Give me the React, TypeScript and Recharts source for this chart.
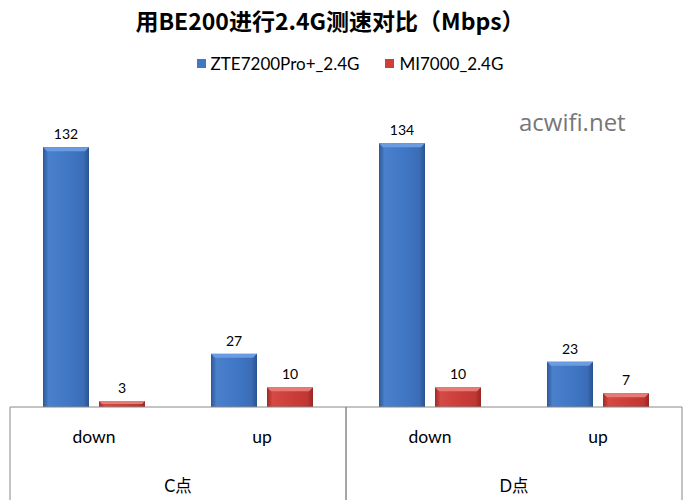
import React from "react";
import { BarChart, Bar, XAxis, YAxis, Legend, LabelList } from "recharts";

const subCategories = ["down", "up", "down", "up"];
const groupCategories = ["C点", "C点", "D点", "D点"];
const zteValues = [132, 27, 134, 23];
const miValues = [3, 10, 10, 7];
const seriesNames = ["ZTE7200Pro+_2.4G", "MI7000_2.4G"];
const seriesColors = ["#4178c6", "#cc3f3a"];
const titleText = "用BE200进行2.4G测速对比（Mbps）";
const watermark = "acwifi.net";

const data = subCategories.map((s, i) => ({
  sub: s,
  group: groupCategories[i],
  zte: zteValues[i],
  mi: miValues[i],
}));

const FONT = "Lato, 'Noto Sans CJK SC', sans-serif";

const makeShape = (grad: string, topColor: string) => (props: any) => {
  const { x, y, width, height } = props;
  if (!height || height <= 0) return <g />;
  const b = Math.min(4, height / 2);
  return (
    <g>
      <rect x={x} y={y} width={width} height={height} fill={`url(#${grad})`} />
      <path
        d={`M${x},${y} L${x + width},${y} L${x + width - b},${y + b} L${x + b},${y + b} Z`}
        fill={topColor}
      />
    </g>
  );
};

const SubTick = (props: any) => {
  const { x, y, payload } = props;
  return (
    <text x={x} y={y + 36} textAnchor="middle" fontSize={17.5} fill="#000" fontFamily={FONT}>
      {payload.value}
    </text>
  );
};

const GroupTick = (props: any) => {
  const { x, y, payload } = props;
  const half = payload.offset ?? 168;
  return (
    <g>
      <line x1={x - half} y1={y - 50} x2={x - half} y2={y + 50} stroke="#888" />
      <line x1={x + half} y1={y - 50} x2={x + half} y2={y + 50} stroke="#888" />
      <text x={x} y={y + 35} textAnchor="middle" fontSize={16.5} fill="#000" fontFamily={FONT}>
        {payload.value}
      </text>
    </g>
  );
};

const LegendContent = () => (
  <div style={{ display: "flex", justifyContent: "center", alignItems: "center", fontSize: 17, fontFamily: FONT, color: "#000", paddingLeft: 14 }}>
    {seriesNames.map((n, i) => (
      <div key={n} style={{ display: "flex", alignItems: "center", marginRight: i === 0 ? 26 : 0 }}>
        <span
          style={{
            display: "inline-block",
            width: 9,
            height: 9,
            background: seriesColors[i],
            marginRight: 5,
          }}
        />
        <span>{n}</span>
      </div>
    ))}
  </div>
);

export default function App() {
  return (
    <div style={{ position: "absolute", left: 0, top: 0, width: 686, height: 500, background: "#fff", fontFamily: FONT }}>
      <div
        style={{
          position: "absolute",
          top: 4,
          left: 0,
          width: 660,
          textAlign: "center",
          fontSize: 23,
          fontWeight: "bold",
          fontFamily: "'Noto Sans CJK SC', sans-serif",
          color: "#000",
          lineHeight: "32px",
        }}
      >
        {titleText}
      </div>
      <div
        style={{
          position: "absolute",
          top: 107,
          left: 519,
          fontSize: 24,
          color: "#777",
          fontFamily: "'Open Sans', sans-serif",
          lineHeight: "30px",
        }}
      >
        {watermark}
      </div>
      <BarChart
        width={686}
        height={500}
        data={data}
        margin={{ top: 92, right: 4, bottom: 0, left: 10 }}
        barSize={46}
        barGap={10}
      >
        <defs>
          <linearGradient id="gBlue" x1="0" y1="0" x2="1" y2="0">
            <stop offset="0%" stopColor="#2c5895" />
            <stop offset="12%" stopColor="#4a80cc" />
            <stop offset="50%" stopColor="#4178c6" />
            <stop offset="88%" stopColor="#3a6db6" />
            <stop offset="100%" stopColor="#2a5290" />
          </linearGradient>
          <linearGradient id="gRed" x1="0" y1="0" x2="1" y2="0">
            <stop offset="0%" stopColor="#a02a26" />
            <stop offset="12%" stopColor="#d44a45" />
            <stop offset="50%" stopColor="#cc3f3a" />
            <stop offset="88%" stopColor="#bf3733" />
            <stop offset="100%" stopColor="#992622" />
          </linearGradient>
        </defs>
        <XAxis
          dataKey="sub"
          height={50}
          tickSize={0}
          tickMargin={0}
          tickLine={false}
          axisLine={{ stroke: "#888" }}
          tick={<SubTick />}
          interval={0}
        />
        <XAxis
          xAxisId="grp"
          dataKey="group"
          allowDuplicatedCategory={false}
          height={43}
          tickSize={0}
          tickMargin={0}
          tickLine={false}
          axisLine={false}
          tick={<GroupTick />}
          interval={0}
        />
        <YAxis hide domain={[0, 160]} />
        <Legend
          verticalAlign="middle"
          layout="horizontal"
          align="center"
          wrapperStyle={{ top: 53, left: 0, width: 686 }}
          content={<LegendContent />}
        />
        <Bar dataKey="zte" name={seriesNames[0]} fill={seriesColors[0]} shape={makeShape("gBlue", "#6b9be0")} isAnimationActive={false}>
          <LabelList dataKey="zte" position="top" offset={8} fontSize={14} fill="#000" fontFamily={FONT} />
        </Bar>
        <Bar dataKey="mi" name={seriesNames[1]} fill={seriesColors[1]} shape={makeShape("gRed", "#e87a75")} isAnimationActive={false}>
          <LabelList dataKey="mi" position="top" offset={8} fontSize={14} fill="#000" fontFamily={FONT} />
        </Bar>
      </BarChart>
    </div>
  );
}
